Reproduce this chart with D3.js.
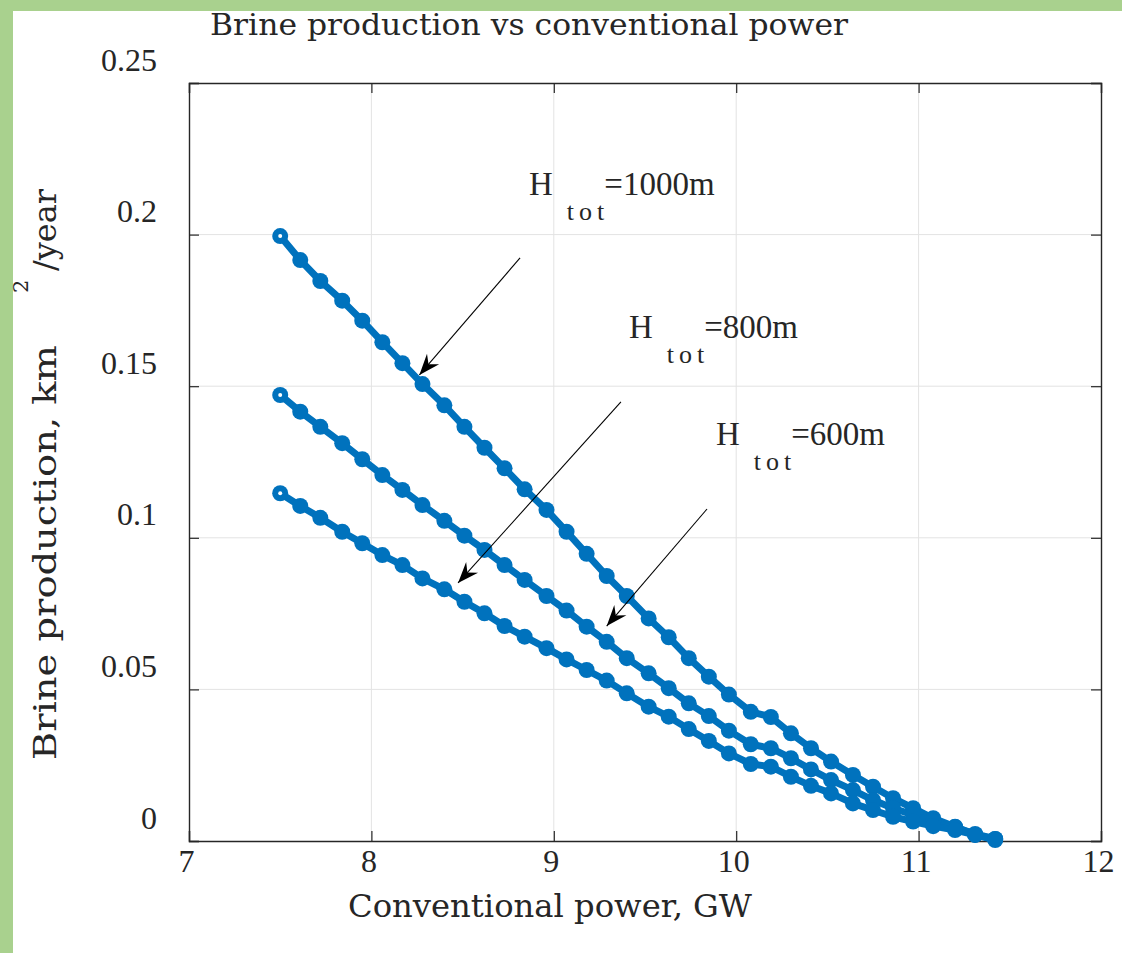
<!DOCTYPE html>
<html>
<head>
<meta charset="utf-8">
<script src="https://cdn.jsdelivr.net/npm/d3@7"></script>
<style>
  html, body { margin: 0; padding: 0; background: #fff; }
  svg text { font-family: "Liberation Serif", "Times New Roman", serif; fill: #262626; }
  svg text.big { font-family: "DejaVu Serif", serif; }
</style>
</head>
<body>
<script>
// ---------- data ----------
const powerGW = [7.50, 7.61, 7.72, 7.84, 7.95, 8.06, 8.17, 8.28, 8.40, 8.51, 8.62, 8.73,
                 8.84, 8.96, 9.07, 9.18, 9.29, 9.40, 9.52, 9.63, 9.74, 9.85, 9.96, 10.08,
                 10.19, 10.30, 10.41, 10.52, 10.64, 10.75, 10.86, 10.97, 11.08, 11.20, 11.31, 11.42];
const brineH1000 = [0.1995, 0.1916, 0.1847, 0.1782, 0.1716, 0.1645, 0.1576, 0.1507, 0.1437, 0.1366,
                    0.1297, 0.1229, 0.1160, 0.1092, 0.1020, 0.0947, 0.0874, 0.0808, 0.0734, 0.0672,
                    0.0603, 0.0542, 0.0483, 0.0426, 0.0409, 0.0355, 0.0306, 0.0262, 0.0218, 0.0179,
                    0.0141, 0.0108, 0.0075, 0.0047, 0.0020, 0.0003];
const brineH800 = [0.1471, 0.1416, 0.1366, 0.1312, 0.1259, 0.1207, 0.1158, 0.1108, 0.1056, 0.1007,
                   0.0960, 0.0910, 0.0861, 0.0808, 0.0760, 0.0707, 0.0657, 0.0603, 0.0553, 0.0504,
                   0.0454, 0.0412, 0.0364, 0.0319, 0.0306, 0.0273, 0.0236, 0.0201, 0.0168, 0.0135,
                   0.0108, 0.0086, 0.0064, 0.0046, 0.0023, 0.0007];
const brineH600 = [0.1147, 0.1105, 0.1066, 0.1020, 0.0982, 0.0943, 0.0910, 0.0866, 0.0830, 0.0789,
                   0.0751, 0.0709, 0.0674, 0.0636, 0.0599, 0.0564, 0.0529, 0.0487, 0.0443, 0.0410,
                   0.0369, 0.0330, 0.0289, 0.0254, 0.0245, 0.0212, 0.0182, 0.0157, 0.0124, 0.0102,
                   0.0080, 0.0064, 0.0049, 0.0036, 0.0020, 0.0007];
const xTicks = [7, 8, 9, 10, 11, 12];
const yTicks = [0, 0.05, 0.1, 0.15, 0.2, 0.25];
const yTickLabels = ["0", "0.05", "0.1", "0.15", "0.2", "0.25"];
const seriesNames = ["=1000m", "=800m", "=600m"];
// annotation anchors in data units
const annText = [[8.864, 0.2131], [9.412, 0.1659], [9.889, 0.1306]];
const annArrowFrom = [[8.815, 0.1923], [9.368, 0.1448], [9.840, 0.1095]];
const annArrowTo = [[8.263, 0.1537], [8.475, 0.0851], [9.290, 0.0709]];

const titleText = "Brine production vs conventional power";
const xLabelText = "Conventional power, GW";

// ---------- layout ----------
const W = 1122, H = 953;
const m = { left: 189, top: 83, right: 21, bottom: 112 };
const pw = W - m.left - m.right, ph = H - m.top - m.bottom;
const blue = "#0072BD";

const svg = d3.select("body").append("svg").attr("width", W).attr("height", H);
// green frame
svg.append("rect").attr("x", 0).attr("y", 0).attr("width", W).attr("height", 11).attr("fill", "#a9d18e");
svg.append("rect").attr("x", 0).attr("y", 0).attr("width", 13).attr("height", H).attr("fill", "#a9d18e");

const x = d3.scaleLinear().domain([7, 12]).range([0, pw]);
const y = d3.scaleLinear().domain([0, 0.25]).range([ph, 0]);

const g = svg.append("g").attr("transform", `translate(${m.left},${m.top})`);

// grid
g.append("g").selectAll("line").data(xTicks.slice(1, -1)).join("line")
  .attr("x1", d => x(d)).attr("x2", d => x(d)).attr("y1", 0).attr("y2", ph)
  .attr("stroke", "#e3e3e3").attr("stroke-width", 1);
g.append("g").selectAll("line").data(yTicks.slice(1, -1)).join("line")
  .attr("y1", d => y(d)).attr("y2", d => y(d)).attr("x1", 0).attr("x2", pw)
  .attr("stroke", "#e3e3e3").attr("stroke-width", 1);

// axes (ticks inward on all four sides)
const axB = g.append("g").attr("transform", `translate(0,${ph})`)
  .call(d3.axisBottom(x).tickValues(xTicks).tickSize(-10).tickPadding(0).tickFormat(d3.format("d")));
const axT = g.append("g").call(d3.axisTop(x).tickValues(xTicks).tickSize(-10).tickFormat(""));
const axL = g.append("g")
  .call(d3.axisLeft(y).tickValues(yTicks).tickSize(-10).tickFormat((d, i) => yTickLabels[i]));
const axR = g.append("g").attr("transform", `translate(${pw},0)`)
  .call(d3.axisRight(y).tickValues(yTicks).tickSize(-10).tickFormat(""));
[axB, axT, axL, axR].forEach(a => {
  a.select(".domain").attr("stroke", "#262626").attr("stroke-width", 1.4);
  a.selectAll(".tick line").attr("stroke", "#262626").attr("stroke-width", 1.2);
});
axB.selectAll(".tick text").attr("font-size", 32).attr("font-family", "Liberation Serif")
  .attr("fill", "#262626").attr("y", 31).attr("dy", 0).attr("dx", -3);
axL.selectAll(".tick text").attr("font-size", 32).attr("font-family", "Liberation Serif")
  .attr("fill", "#262626").attr("x", -32).attr("dy", 0).attr("y", -13);

// series
const series = [brineH1000, brineH800, brineH600];
const line = d3.line().x((d, i) => x(powerGW[i])).y(d => y(d));
series.forEach(vals => {
  g.append("path").datum(vals).attr("d", line)
    .attr("fill", "none").attr("stroke", blue).attr("stroke-width", 7)
    .attr("stroke-linejoin", "round");
  g.append("g").selectAll("circle").data(vals).join("circle")
    .attr("cx", (d, i) => x(powerGW[i])).attr("cy", d => y(d)).attr("r", 8)
    .attr("fill", blue);
  g.append("circle").attr("cx", x(powerGW[0])).attr("cy", y(vals[0])).attr("r", 2).attr("fill", "#fff");
});

// annotations
annText.forEach((p, i) => {
  const t = g.append("text").attr("x", x(p[0])).attr("y", y(p[1])).attr("font-size", 33).attr("fill", "#000");
  t.append("tspan").text("H");
  t.append("tspan").attr("dx", 14).attr("dy", 25).attr("font-size", 26).attr("letter-spacing", 5).text("tot");
  t.append("tspan").attr("dx", -5).attr("dy", -25).text(seriesNames[i]);
});
annArrowFrom.forEach((s, i) => {
  const e = annArrowTo[i];
  const x1 = x(s[0]), y1 = y(s[1]), x2 = x(e[0]), y2 = y(e[1]);
  const ang = Math.atan2(y2 - y1, x2 - x1);
  g.append("line").attr("x1", x1).attr("y1", y1).attr("x2", x2).attr("y2", y2)
    .attr("stroke", "#000").attr("stroke-width", 1.1);
  const L = 21, Wd = 8, back = 14;
  g.append("path")
    .attr("d", `M0,0 L${-L},${-Wd} L${-back},0 L${-L},${Wd} Z`)
    .attr("transform", `translate(${x2},${y2}) rotate(${ang * 180 / Math.PI})`)
    .attr("fill", "#000");
});

// title and labels
svg.append("text").attr("class", "big").attr("x", 210).attr("y", 35).attr("font-size", 29).attr("fill", "#000")
  .attr("textLength", 638).attr("lengthAdjust", "spacingAndGlyphs").text(titleText);
svg.append("text").attr("class", "big").attr("x", 348).attr("y", 917).attr("font-size", 31)
  .attr("textLength", 404).attr("lengthAdjust", "spacingAndGlyphs").text(xLabelText);
svg.append("text").attr("class", "big").attr("transform", "translate(56,760) rotate(-90)").attr("font-size", 31)
  .attr("textLength", 415).attr("lengthAdjust", "spacingAndGlyphs").text("Brine production, km");
svg.append("text").attr("class", "big").attr("transform", "translate(28,293) rotate(-90)").attr("font-size", 21).text("2");
svg.append("text").attr("class", "big").attr("transform", "translate(56,271) rotate(-90)").attr("font-size", 31)
  .attr("textLength", 82).attr("lengthAdjust", "spacingAndGlyphs").text("/year");
</script>
</body>
</html>
